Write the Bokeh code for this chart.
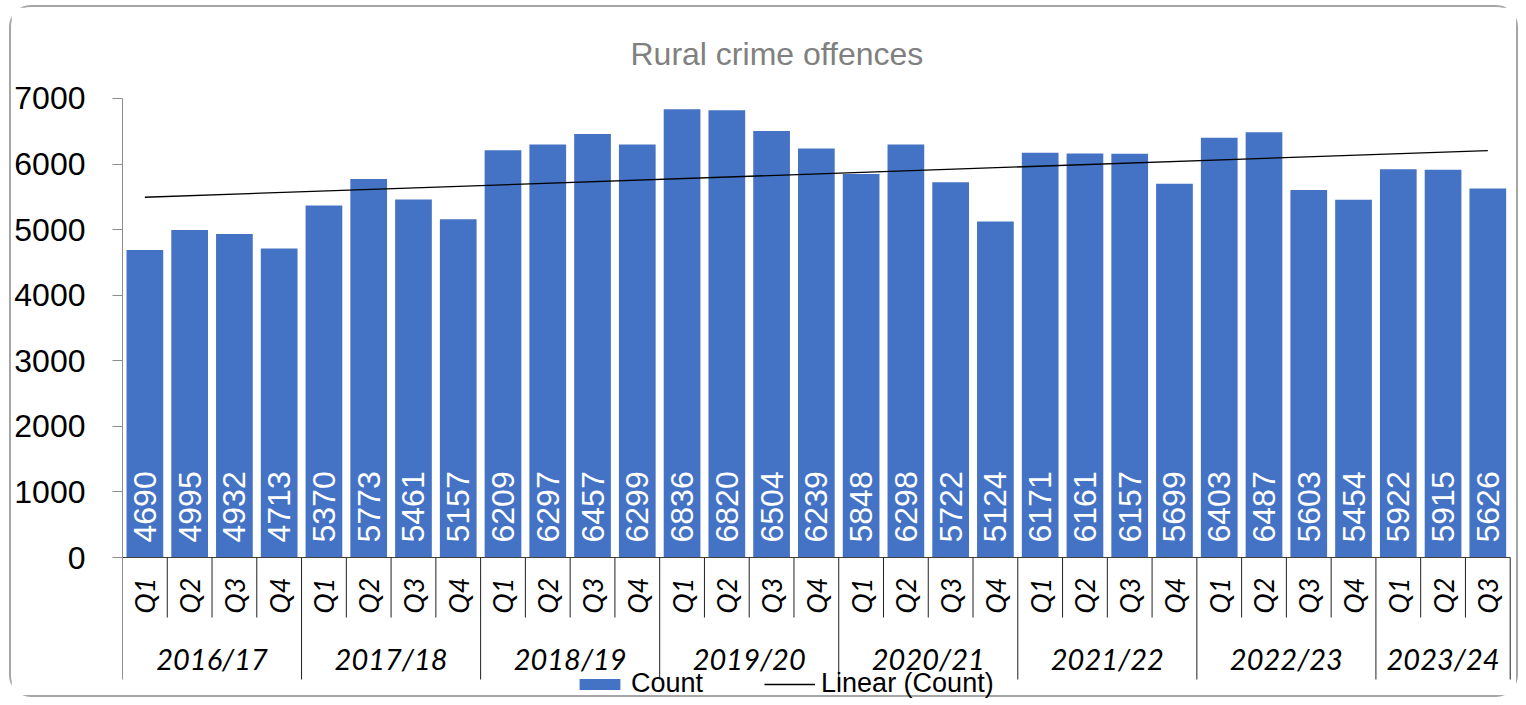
import numpy as np
from bokeh.plotting import figure
from bokeh.models import Range1d, FixedTicker
from bokeh.embed import file_html
from bokeh.resources import INLINE
from bokeh.core.properties import value

# ---------------- data ----------------
fin_years = ["2016/17", "2017/18", "2018/19", "2019/20",
             "2020/21", "2021/22", "2022/23", "2023/24"]
quarters = ["Q1", "Q2", "Q3", "Q4"] * 7 + ["Q1", "Q2", "Q3"]
counts = [4690, 4995, 4932, 4713,
          5370, 5773, 5461, 5157,
          6209, 6297, 6457, 6299,
          6836, 6820, 6504, 6239,
          5848, 6298, 5722, 5124,
          6171, 6161, 6157, 5699,
          6403, 6487, 5603, 5454,
          5922, 5915, 5626]
y_ticks = [0, 1000, 2000, 3000, 4000, 5000, 6000, 7000]

# ---------------- derived ----------------
n = len(counts)
xs = [i + 0.5 for i in range(n)]
bar_year = [fin_years[i // 4] for i in range(n)]

# linear trend (least squares, like Excel's "Linear" trendline)
slope, intercept = np.polyfit(xs, counts, 1)
trend_x = [xs[0], xs[-1]]
trend_y = [slope * x + intercept for x in trend_x]

# year groups
group_start = {}
group_end = {}
for i, y in enumerate(bar_year):
    group_start.setdefault(y, i)
    group_end[y] = i + 1
year_centers = [(group_start[y] + group_end[y]) / 2 for y in fin_years]
year_bounds = sorted(set(list(group_start.values()) + [group_end[fin_years[-1]]]))
quarter_bounds = [b for b in range(n + 1) if b not in year_bounds]

PX = 15.25          # data units per screen pixel (vertical)
Y_MAX = 7000

FONT = "Liberation Sans"
CAT_FONT = "Lato"
BLUE = "#4472C4"

p = figure(width=1509, height=692,
           x_range=Range1d(0, 31.23),
           y_range=Range1d(-142 * PX, Y_MAX + 26 * PX),
           output_backend="svg", toolbar_location=None,
           x_axis_location=None,
           min_border_left=111, min_border_right=0,
           min_border_top=65, min_border_bottom=0,
           styles={"border": "2px solid #a6a6a6", "border-radius": "22px",
                   "margin": "5px 0 0 9px"})

p.grid.visible = False
p.outline_line_color = None
p.background_fill_color = "white"
p.border_fill_color = "white"

# title
p.title.text = "Rural crime offences"
p.title.text_font = FONT
p.title.text_font_size = "32px"
p.title.text_font_style = "normal"
p.title.text_color = "#808080"
p.title.align = "left"
p.title.offset = 508
p.title.standoff = 2

# y axis
ax = p.yaxis[0]
ax.ticker = FixedTicker(ticks=y_ticks)
ax.bounds = (0, Y_MAX)
ax.axis_line_color = "#8c8c8c"
ax.major_tick_line_color = "#8c8c8c"
ax.minor_tick_line_color = None
ax.major_tick_out = 10
ax.major_tick_in = 0
ax.major_label_standoff = 27
ax.major_label_text_font = FONT
ax.major_label_text_font_size = "32px"
ax.major_label_text_color = "black"

# bars
p.vbar(x=xs, top=counts, width=0.82, fill_color=BLUE, line_color=None,
       legend_label="Count")

# trend line
p.line(trend_x, trend_y, line_color="black", line_width=1.3,
       legend_label="Linear (Count)")

# data labels inside bars
p.text(x=xs, y=[15 * PX] * n, text=[str(c) for c in counts],
       angle=np.pi / 2, text_align="left", text_baseline="middle",
       text_color="white", text_font=value(FONT), text_font_size="32px")

# category axis (drawn by hand, Excel multi-level style)
p.segment(x0=[0], y0=[0], x1=[n], y1=[0], line_color="#404040", line_width=1.2)
p.segment(x0=quarter_bounds, y0=[0] * len(quarter_bounds),
          x1=quarter_bounds, y1=[-60 * PX] * len(quarter_bounds),
          line_color="#202020", line_width=1)
p.segment(x0=year_bounds, y0=[0] * len(year_bounds),
          x1=year_bounds, y1=[-122 * PX] * len(year_bounds),
          line_color="#202020", line_width=1)

p.text(x=xs, y=[-38 * PX] * n, text=quarters, angle=np.pi / 2,
       text_align="center", text_baseline="middle", text_color="black",
       text_font=value(CAT_FONT), text_font_style="italic",
       text_font_size="27px")
p.text(x=year_centers, y=[-101 * PX] * len(fin_years), text=fin_years,
       text_align="center", text_baseline="middle", text_color="black",
       text_font=value(CAT_FONT), text_font_style="italic",
       text_font_size="29px")

# legend
lg = p.legend[0]
lg.orientation = "horizontal"
lg.location = (452, 0)
lg.padding = 0
lg.margin = 0
lg.spacing = 61
lg.border_line_color = None
lg.background_fill_alpha = 0
lg.glyph_width = 51
lg.glyph_height = 14
lg.label_height = 14
lg.label_standoff = 6
lg.label_text_font = FONT
lg.label_text_font_size = "27px"
lg.label_text_color = "black"

open("out.html", "w").write(file_html(p, INLINE))
